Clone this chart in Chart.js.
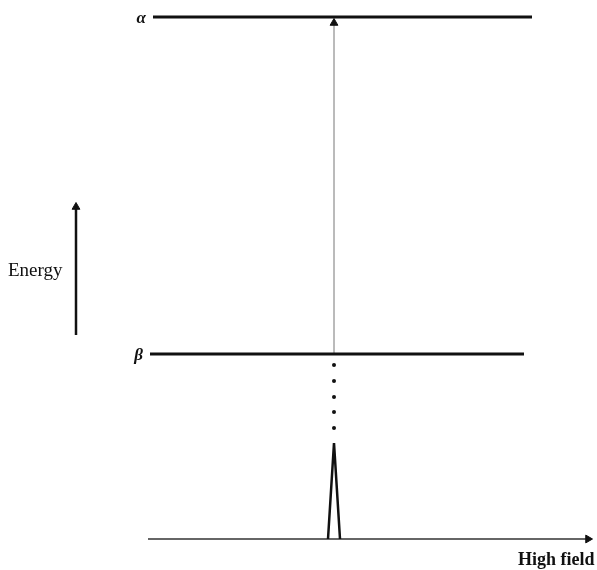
<!DOCTYPE html>
<html>
<head>
<meta charset="utf-8">
<script src="https://cdn.jsdelivr.net/npm/chart.js@4/dist/chart.umd.min.js"></script>
<style>
  body { margin: 0; background: #fff; }
  #wrap { width: 597px; height: 570px; }
</style>
</head>
<body>
<div id="wrap"><canvas id="myChart" width="597" height="570"></canvas></div>
<script>
// energy levels (baseline of the field axis = 0)
const levelNames = ['α', 'β']
const levelEnergy = [522, 185]
const levelStart = [153, 150]
const levelEnd = [532, 524]

// transition position on the field axis
const transitionField = 334
// dotted drop from β level to the peak
const dotEnergy = [174, 158, 142, 127, 111]
// absorption peak
const peakField = [328, 334, 340]
const peakHeight = [0, 96, 0]
// field axis
const axisField = [148, 588]
const axisLabel = 'High field'
// energy arrow on the left
const energyArrowX = 76
const energyArrow = [204, 332]
const energyLabel = 'Energy'

const black = '#111'

function segment(xs, ys) {
  return xs.map((x, i) => ({ x: x, y: ys[i] }))
}

const datasets = [
  {
    data: segment([levelStart[0], levelEnd[0]], [levelEnergy[0], levelEnergy[0]]),
    borderColor: black, borderWidth: 3, pointRadius: 0
  },
  {
    data: segment([levelStart[1], levelEnd[1]], [levelEnergy[1], levelEnergy[1]]),
    borderColor: black, borderWidth: 3, pointRadius: 0
  },
  {
    // transition arrow beta -> alpha
    data: segment([transitionField, transitionField], [levelEnergy[1], levelEnergy[0] - 6]),
    borderColor: '#777', borderWidth: 1,
    pointStyle: 'triangle', pointRadius: [0, 4.5],
    pointBackgroundColor: black, pointBorderColor: black, pointBorderWidth: 1
  },
  {
    data: dotEnergy.map(e => ({ x: transitionField, y: e })),
    showLine: false, pointRadius: 2,
    pointBackgroundColor: black, pointBorderColor: black, pointBorderWidth: 0
  },
  {
    data: segment(peakField, peakHeight),
    borderColor: black, borderWidth: 2.5, pointRadius: 0
  },
  {
    data: segment(axisField, [0, 0]),
    borderColor: '#333', borderWidth: 1.5,
    pointStyle: 'triangle', pointRotation: 90, pointRadius: [0, 4.5],
    pointBackgroundColor: black, pointBorderColor: black, pointBorderWidth: 1
  },
  {
    data: segment([energyArrowX, energyArrowX], energyArrow),
    borderColor: black, borderWidth: 2.5,
    pointStyle: 'triangle', pointRadius: [0, 4.5],
    pointBackgroundColor: black, pointBorderColor: black, pointBorderWidth: 1
  }
]

const labelsPlugin = {
  id: 'labels',
  afterDraw(chart) {
    const c = chart.ctx, xs = chart.scales.x, ys = chart.scales.y
    c.save()
    c.fillStyle = black
    c.textBaseline = 'middle'
    c.font = 'italic bold 17px "Liberation Serif", serif'
    c.textAlign = 'right'
    for (let i = 0; i < levelNames.length; i++) {
      c.fillText(levelNames[i], xs.getPixelForValue(levelStart[i]) - 7, ys.getPixelForValue(levelEnergy[i]) + 2)
    }
    c.textAlign = 'left'
    c.font = '19px "Liberation Serif", serif'
    c.fillText(energyLabel, 8, ys.getPixelForValue((energyArrow[0] + energyArrow[1]) / 2))
    c.font = 'bold 18px "Liberation Serif", serif'
    c.fillText(axisLabel, 518, ys.getPixelForValue(0) + 21)
    c.restore()
  }
}

new Chart(document.getElementById('myChart'), {
  type: 'scatter',
  data: { datasets: datasets },
  options: {
    responsive: false,
    animation: false,
    showLine: true,
    layout: { padding: 0, autoPadding: false },
    plugins: { legend: { display: false }, tooltip: { enabled: false } },
    scales: {
      x: { type: 'linear', min: 0, max: 597, display: false },
      y: { type: 'linear', min: -31, max: 539, display: false }
    }
  },
  plugins: [labelsPlugin]
})
</script>
</body>
</html>
